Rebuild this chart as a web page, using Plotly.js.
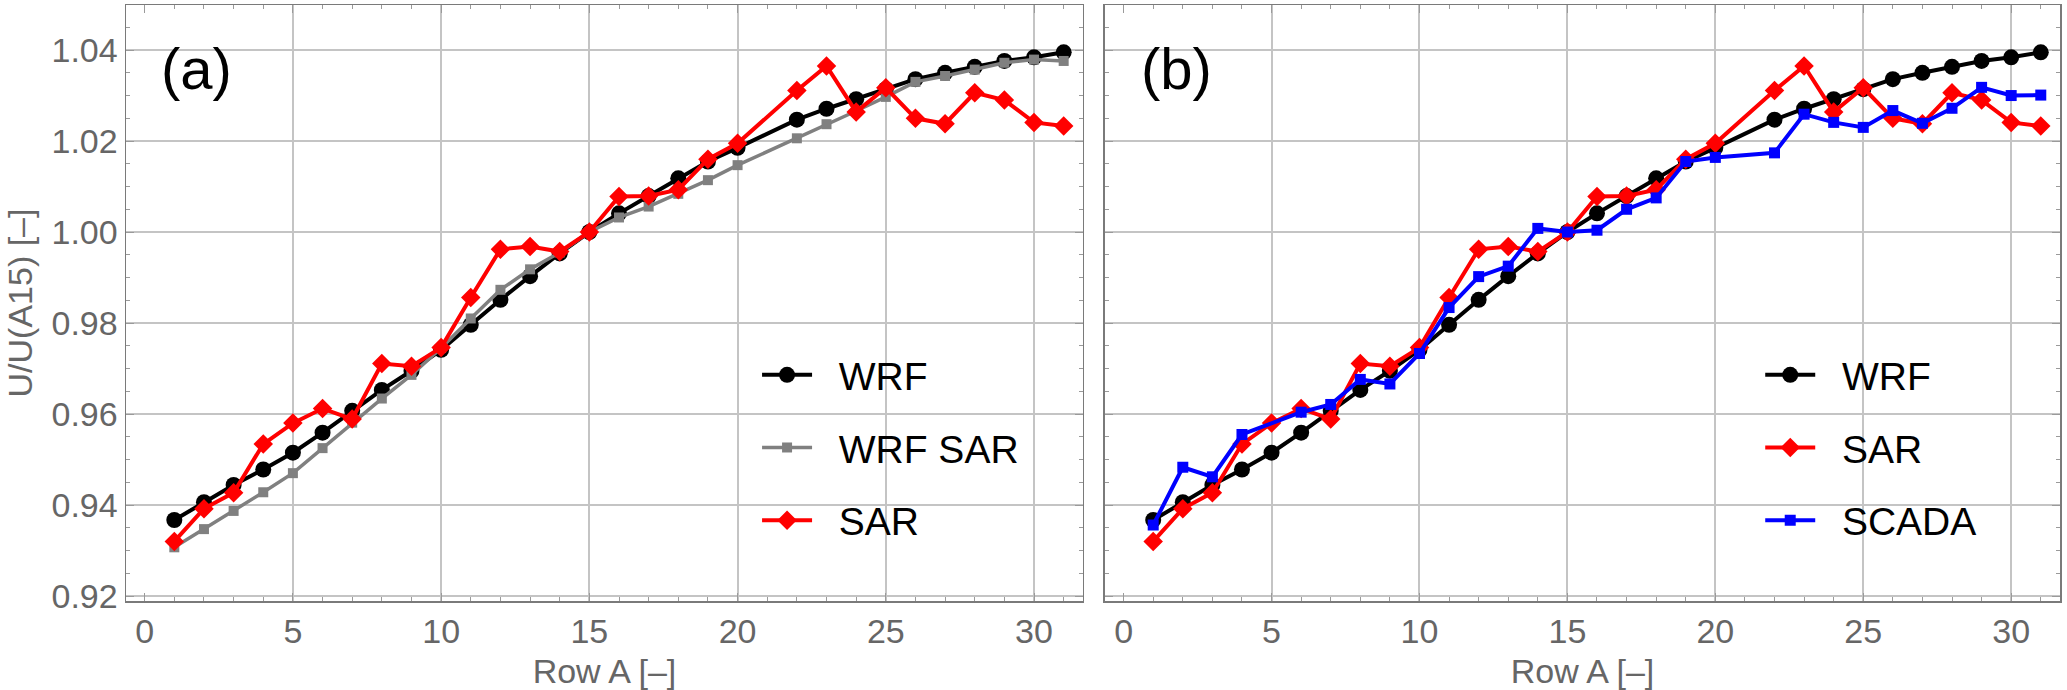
<!DOCTYPE html>
<html>
<head>
<meta charset="utf-8">
<script src="https://cdn.plot.ly/plotly-3.0.1.min.js"></script>
<style>html,body{margin:0;padding:0;background:#fff;}#chart{width:2067px;height:690px;}</style>
</head>
<body>
<div id="chart"></div>
<script>
// Row numbers (no row 21)
const rows = [1,2,3,4,5,6,7,8,9,10,11,12,13,14,15,16,17,18,19,20,22,23,24,25,26,27,28,29,30,31];
const wrf = [0.9367,0.9406,0.9444,0.9478,0.9515,0.9559,0.9607,0.9653,0.9695,0.9741,
             0.9796,0.9851,0.9903,0.9953,1.0000,1.0041,1.0079,1.0118,1.0155,1.0185,
             1.0247,1.0271,1.0292,1.0314,1.0336,1.0350,1.0363,1.0376,1.0384,1.0395];
const wrfSar = [0.9307,0.9347,0.9387,0.9428,0.9470,0.9525,0.9581,0.9634,0.9686,0.9745,
                0.9810,0.9873,0.9918,0.9955,1.0000,1.0032,1.0056,1.0084,1.0114,1.0147,
                1.0206,1.0237,1.0266,1.0297,1.0330,1.0343,1.0357,1.0372,1.0379,1.0376];
const sar = [0.9320,0.9392,0.9427,0.9534,0.9580,0.9612,0.9589,0.9711,0.9705,0.9746,
             0.9856,0.9962,0.9968,0.9957,1.0000,1.0078,1.0079,1.0093,1.0160,1.0195,
             1.0311,1.0365,1.0264,1.0317,1.0250,1.0238,1.0306,1.0290,1.0241,1.0233];
// SCADA rows (no rows 5 and 21)
const scadaRows = [1,2,3,4,6,7,8,9,10,11,12,13,14,15,16,17,18,19,20,22,23,24,25,26,27,28,29,30,31];
const scada = [0.9356,0.9483,0.9462,0.9555,0.9604,0.9621,0.9676,0.9666,0.9733,
               0.9834,0.9902,0.9925,1.0008,1.0000,1.0004,1.0050,1.0075,1.0155,1.0164,
               1.0174,1.0259,1.0241,1.0230,1.0267,1.0239,1.0272,1.0318,1.0300,1.0301];
const xTitle = 'Row A [–]';
const yTitle = 'U/U(A15) [–]';
const panelLabels = ['(a)', '(b)'];

const FONT = 'Liberation Sans, Arial, Helvetica, sans-serif';

function tr(x, y, name, color, symbol, size, lw, xa, ya, leg, grp) {
  return {
    x: x, y: y, name: name, type: 'scatter', mode: 'lines+markers',
    line: {color: color, width: lw},
    marker: {color: color, symbol: symbol, size: size, line: {width: 0}},
    xaxis: xa, yaxis: ya, legend: leg, legendgroup: grp, cliponaxis: false
  };
}

const data = [
  tr(rows, wrf, 'WRF', '#000000', 'circle', 16, 4, 'x', 'y', 'legend', 'a1'),
  tr(rows, wrfSar, 'WRF SAR', '#808080', 'square', 10, 3.5, 'x', 'y', 'legend', 'a2'),
  tr(rows, sar, 'SAR', '#ff0000', 'diamond', 15, 4, 'x', 'y', 'legend', 'a3'),
  tr(rows, wrf, 'WRF', '#000000', 'circle', 16, 4, 'x2', 'y2', 'legend2', 'b1'),
  tr(rows, sar, 'SAR', '#ff0000', 'diamond', 15, 4, 'x2', 'y2', 'legend2', 'b2'),
  tr(scadaRows, scada, 'SCADA', '#0000ff', 'square', 11, 4, 'x2', 'y2', 'legend2', 'b3')
];
data.forEach(t => { t.name = '\u00a0\u00a0' + t.name; });

const frame = {
  showline: true, linecolor: '#7a7a7a', linewidth: 1.5, mirror: 'allticks',
  ticks: 'inside', ticklen: 8, tickwidth: 1, tickcolor: '#9a9a9a',
  showgrid: true, gridcolor: '#c4c4c4', gridwidth: 2,
  zeroline: true, zerolinecolor: 'rgba(0,0,0,0)', zerolinewidth: 0,
  tickfont: {family: FONT, size: 34, color: '#666666'}
};

function xax(domain) {
  return Object.assign({}, frame, {
    domain: domain, range: [-0.63, 31.65], tickmode: 'linear', tick0: 0, dtick: 5,
    minor: {dtick: 1, tick0: 0, ticks: 'inside', ticklen: 4, tickcolor: '#9a9a9a', showgrid: false},
    title: {text: xTitle, font: {family: FONT, size: 34, color: '#666666'}, standoff: 12}
  });
}
function yax(anchor, showLabels) {
  return Object.assign({}, frame, {
    anchor: anchor, range: [0.9189, 1.0499], tickmode: 'linear', tick0: 0.92, dtick: 0.02,
    tickformat: '.2f', showticklabels: showLabels,
    minor: {dtick: 0.005, tick0: 0.92, ticks: 'inside', ticklen: 4, tickcolor: '#9a9a9a', showgrid: false},
    title: showLabels ? {text: yTitle, font: {family: FONT, size: 34, color: '#666666'}, standoff: 8} : {text: ''}
  });
}

const legendBase = {
  xref: 'paper', yref: 'paper', xanchor: 'left', yanchor: 'top',
  font: {family: FONT, size: 39, color: '#000000'},
  bgcolor: 'rgba(0,0,0,0)', borderwidth: 0,
  itemwidth: 50, tracegroupgap: 19, traceorder: 'grouped'
};

const layout = {
  width: 2067, height: 690,
  margin: {l: 126, r: 7, t: 5, b: 89},
  paper_bgcolor: '#ffffff', plot_bgcolor: '#ffffff',
  font: {family: FONT},
  showlegend: true,
  xaxis: xax([0, 0.4948]),
  yaxis: yax('x', true),
  xaxis2: Object.assign(xax([0.5062, 1]), {anchor: 'y2'}),
  yaxis2: yax('x2', false),
  legend: Object.assign({}, legendBase, {x: 0.3263, y: 0.433}),
  legend2: Object.assign({}, legendBase, {x: 0.845, y: 0.433}),
  annotations: [
    {text: panelLabels[0], xref: 'paper', yref: 'paper', x: 0.0170, y: 0.894,
     xanchor: 'left', yanchor: 'middle', showarrow: false,
     font: {family: FONT, size: 58, color: '#000000'}},
    {text: panelLabels[1], xref: 'paper', yref: 'paper', x: 0.5240, y: 0.894,
     xanchor: 'left', yanchor: 'middle', showarrow: false,
     font: {family: FONT, size: 58, color: '#000000'}}
  ]
};

Plotly.newPlot('chart', data, layout, {staticPlot: true, displayModeBar: false});
</script>
</body>
</html>
